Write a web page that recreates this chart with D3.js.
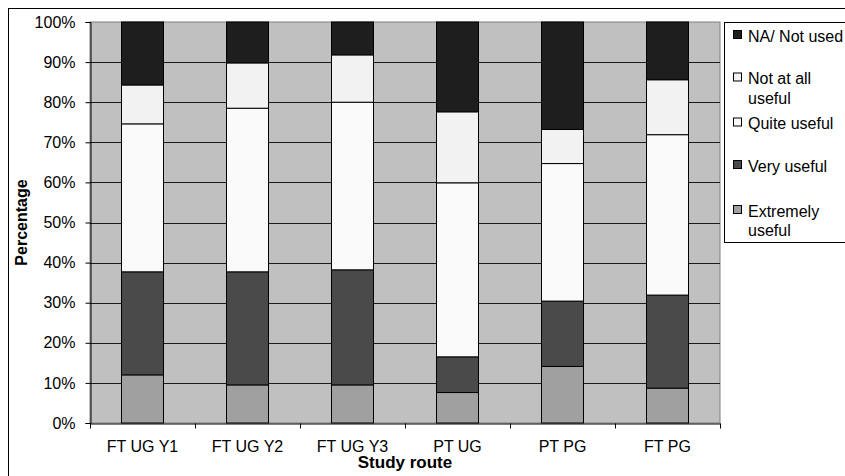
<!DOCTYPE html>
<html>
<head>
<meta charset="utf-8">
<script src="https://cdn.jsdelivr.net/npm/d3@7"></script>
<style>
  body { margin: 0; background: #fff; }
  svg { display: block; font-family: "Liberation Sans", Arial, sans-serif; }
</style>
</head>
<body>
<svg width="845" height="476"></svg>
<script>

// Datos (porcentajes, de abajo hacia arriba)
let rutas = ['FT UG Y1', 'FT UG Y2', 'FT UG Y3', 'PT UG', 'PT PG', 'FT PG']
let series = ['Extremely useful', 'Very useful', 'Quite useful', 'Not at all useful', 'NA/ Not used']

let extremely = [12.0, 9.5, 9.5, 7.6, 14.1, 8.7]
let very      = [25.7, 28.2, 28.7, 8.9, 16.3, 23.2]
let quite     = [36.9, 40.8, 41.8, 43.4, 34.3, 40.0]
let notatall  = [9.7, 11.3, 11.8, 17.7, 8.5, 13.7]
let na        = [15.7, 10.2, 8.2, 22.4, 26.8, 14.4]

let ticks_y = [0, 10, 20, 30, 40, 50, 60, 70, 80, 90, 100]

let colores = ['#a0a0a0', '#4a4a4a', '#fafafa', '#f2f2f2', '#1e1e1e']

// Tabla para el stack
let tabla = rutas.map((r, i) => ({
  ruta: r,
  'Extremely useful': extremely[i],
  'Very useful': very[i],
  'Quite useful': quite[i],
  'Not at all useful': notatall[i],
  'NA/ Not used': na[i]
}))

let fs = 16


/* Lienzo */

let svg = d3.select('svg')

// borde exterior (cortado a la derecha y abajo)
svg.append('rect')
  .attr('x', 8.5).attr('y', 8.5)
  .attr('width', 900).attr('height', 500)
  .attr('fill', 'none').attr('stroke', '#000')

let m = {l: 90, t: 22, r: 720, b: 423}

let x = d3.scaleBand().domain(rutas).range([m.l, m.r]).paddingInner(0).paddingOuter(0)
let y = d3.scaleLinear().domain([0, 100]).range([m.b, m.t])

let g = svg.append('g')

// fondo del área
g.append('rect')
  .attr('x', m.l).attr('y', m.t)
  .attr('width', m.r - m.l).attr('height', m.b - m.t)
  .attr('fill', '#c0c0c0')
  .attr('stroke', '#808080')

// grilla
g.selectAll('line.grid')
  .data(ticks_y.filter(t => t > 0 && t < 100))
  .enter().append('line')
  .attr('class', 'grid')
  .attr('x1', m.l).attr('x2', m.r)
  .attr('y1', d => Math.round(y(d)) + 0.5)
  .attr('y2', d => Math.round(y(d)) + 0.5)
  .attr('stroke', '#1a1a1a')

// barras
let stack = d3.stack().keys(series)(tabla)
let bw = x.bandwidth() / 2.5

g.selectAll('g.serie')
  .data(stack).enter().append('g')
  .attr('class', 'serie')
  .attr('fill', (d, i) => colores[i])
  .selectAll('rect')
  .data(d => d).enter().append('rect')
  .attr('x', d => x(d.data.ruta) + (x.bandwidth() - bw) / 2)
  .attr('y', d => y(d[1]))
  .attr('width', bw)
  .attr('height', d => y(d[0]) - y(d[1]))
  .attr('stroke', '#000')
  .attr('stroke-width', 1)

// eje y
let ejeY = g.append('g')
  .attr('transform', `translate(${m.l + 0.5},0)`)
  .call(d3.axisLeft(y).tickValues(ticks_y).tickSize(5).tickPadding(10).tickFormat(d => d + '%'))
ejeY.select('.domain').attr('stroke', '#000')
ejeY.selectAll('text').attr('font-size', fs).attr('fill', '#000').attr('font-family', null)

// eje x (ticks en los bordes de las categorías)
let ejeX = g.append('g')
  .attr('transform', `translate(0,${m.b + 0.5})`)
  .call(d3.axisBottom(x).tickSize(0).tickPadding(17))
ejeX.select('.domain').attr('stroke', '#000')
ejeX.selectAll('text').attr('font-size', fs).attr('fill', '#000').attr('font-family', null)

ejeX.selectAll('line.borde')
  .data(rutas.map(r => x(r)).concat([m.r]))
  .enter().append('line')
  .attr('class', 'borde')
  .attr('x1', d => Math.round(d) + 0.5).attr('x2', d => Math.round(d) + 0.5)
  .attr('y1', 0).attr('y2', 5)
  .attr('stroke', '#000')

// títulos de ejes
svg.append('text')
  .text('Percentage')
  .attr('transform', `translate(27,${(m.t + m.b) / 2}) rotate(-90)`)
  .attr('text-anchor', 'middle')
  .attr('font-weight', 'bold').attr('font-size', fs)

svg.append('text')
  .text('Study route')
  .attr('x', (m.l + m.r) / 2).attr('y', 468)
  .attr('text-anchor', 'middle')
  .attr('font-weight', 'bold').attr('font-size', 17)


/* Leyenda */

let leyenda = svg.append('g')
leyenda.append('rect')
  .attr('x', 724.5).attr('y', 22.5)
  .attr('width', 200).attr('height', 220)
  .attr('fill', '#fff').attr('stroke', '#000')

let items = [
  {lineas: ['NA/ Not used'], y: 35, c: 4},
  {lineas: ['Not at all', 'useful'], y: 77.5, c: 3},
  {lineas: ['Quite useful'], y: 122.5, c: 2},
  {lineas: ['Very useful'], y: 165, c: 1},
  {lineas: ['Extremely', 'useful'], y: 210, c: 0}
]

let li = leyenda.selectAll('g.item')
  .data(items).enter().append('g')
  .attr('class', 'item')
  .attr('transform', d => `translate(733,${d.y})`)

li.append('rect')
  .attr('x', 0.5).attr('y', -4.5)
  .attr('width', 8).attr('height', 8)
  .attr('fill', d => colores[d.c])
  .attr('stroke', '#000')

li.each(function(d) {
  d3.select(this).selectAll('text')
    .data(d.lineas).enter().append('text')
    .text(t => t)
    .attr('x', 15).attr('y', (t, i) => i * 19.5 + 6.5)
    .attr('font-size', fs)
})

</script>
</body>
</html>
